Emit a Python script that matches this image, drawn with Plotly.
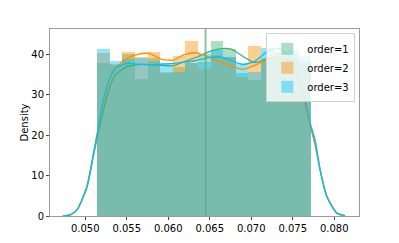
import numpy as np
import plotly.graph_objects as go

# ---------------- data ----------------
series_names = ["order=1", "order=2", "order=3"]
series_colors = ["#3CB371", "#FF8C00", "#00BFFF"]

bin_edges = [0.05145, 0.05297, 0.05448, 0.05600, 0.05752, 0.05903, 0.06055,
             0.06207, 0.06358, 0.06510, 0.06662, 0.06813, 0.06965, 0.07117,
             0.07268, 0.07420, 0.07572, 0.07723]

hist_order1 = [38.0, 37.4, 40.2, 34.0, 39.0, 35.5, 37.0, 37.8, 40.1,
               43.3, 41.3, 35.3, 33.7, 39.0, 39.0, 40.0, 38.5]
hist_order2 = [40.4, 37.6, 40.5, 39.3, 40.7, 35.6, 39.5, 43.3, 36.5,
               39.8, 39.4, 34.5, 42.1, 38.5, 40.0, 39.0, 38.0]
hist_order3 = [41.3, 38.5, 38.9, 39.0, 38.5, 38.0, 35.7, 37.8, 38.2,
               41.1, 39.3, 38.0, 35.7, 41.5, 40.5, 41.0, 39.5]

kde_x = [0.0473, 0.0482, 0.0490, 0.0502, 0.0510, 0.0515, 0.0520, 0.0528,
         0.0536, 0.0550, 0.0564, 0.0578, 0.0592, 0.0606, 0.0620, 0.0634,
         0.0648, 0.0662, 0.0676, 0.0690, 0.0704, 0.0718, 0.0732, 0.0746,
         0.0758, 0.0766, 0.0771, 0.0777, 0.0783, 0.0791, 0.0803, 0.0813]
kde_order1 = [0.0, 0.3, 1.5, 7.0, 15.0, 20.0, 24.5, 31.0,
              34.8, 37.0, 37.5, 37.5, 37.3, 37.2, 38.3, 39.3,
              40.6, 41.4, 41.3, 39.5, 38.0, 38.8, 39.5, 38.5,
              33.5, 27.0, 22.5, 17.5, 11.2, 4.8, 0.7, 0.1]
kde_order2 = [0.0, 0.3, 1.5, 7.3, 15.6, 21.0, 26.5, 32.8,
              36.5, 39.0, 40.1, 40.2, 38.8, 38.6, 40.0, 40.4,
              39.4, 38.2, 37.1, 36.3, 37.3, 38.6, 39.2, 38.0,
              33.0, 26.5, 22.5, 18.0, 11.5, 5.0, 0.8, 0.1]
kde_order3 = [0.0, 0.3, 1.5, 7.3, 15.6, 21.0, 27.0, 33.2,
              36.5, 37.8, 37.6, 37.5, 37.6, 37.8, 38.1, 38.5,
              39.2, 39.4, 38.5, 37.5, 38.3, 40.5, 41.5, 39.5,
              34.0, 27.5, 23.0, 18.8, 11.4, 4.8, 0.7, 0.1]

series_means = [0.06454, 0.06442, 0.06451]

x_ticks = [0.050, 0.055, 0.060, 0.065, 0.070, 0.075, 0.080]
y_ticks = [0, 10, 20, 30, 40]

# ---------------- figure ----------------
edges = np.array(bin_edges)
centers = (edges[:-1] + edges[1:]) / 2
widths = np.diff(edges)

hists = [hist_order1, hist_order2, hist_order3]
kdes = [kde_order1, kde_order2, kde_order3]

fig = go.Figure()
for name, color, h, k in zip(series_names, series_colors, hists, kdes):
    fig.add_trace(go.Bar(
        x=centers, y=h, width=widths, name=name,
        marker=dict(color=color, line=dict(width=0)),
        opacity=0.42, showlegend=True,
    ))
    fig.add_trace(go.Scatter(
        x=kde_x, y=k, mode="lines",
        line=dict(color=color, width=1.3, shape="spline", smoothing=0.6),
        showlegend=False, hoverinfo="skip",
    ))

for color, m in zip(series_colors, series_means):
    fig.add_shape(type="line", xref="x", yref="paper", x0=m, x1=m, y0=0, y1=1,
                  line=dict(color=color, width=1), opacity=0.6)

axis_common = dict(showline=True, linecolor="#9a9a9a", linewidth=1, mirror=True,
                   showgrid=False, zeroline=False, ticks="outside", ticklen=3,
                   tickcolor="#444444", tickfont=dict(size=10, color="black"),
                   automargin=False)

# page body has an 8px margin, so the figure is sized to fit inside the window
fig.update_layout(
    width=383, height=227,
    margin=dict(l=42, r=32, t=21, b=19),
    paper_bgcolor="white", plot_bgcolor="white",
    barmode="overlay", bargap=0,
    font=dict(family="DejaVu Sans", size=10, color="black"),
    xaxis=dict(range=[0.04575, 0.08298], tickvals=x_ticks, tickformat=".3f", **axis_common),
    yaxis=dict(range=[0, 46.3], tickvals=y_ticks,
               title=dict(text="Density", font=dict(size=10), standoff=0), **axis_common),
    legend=dict(x=0.70, y=0.977, xanchor="left", yanchor="top",
                bgcolor="rgba(255,255,255,0.8)", bordercolor="#d0d0d0", borderwidth=1,
                font=dict(size=10), tracegroupgap=0, itemwidth=30),
)

fig.write_html("out.html")
